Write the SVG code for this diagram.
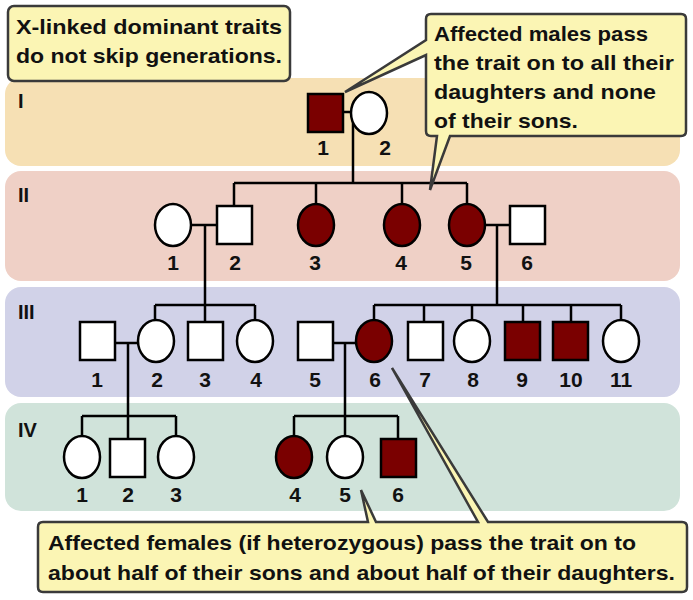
<svg xmlns="http://www.w3.org/2000/svg" width="693" height="600" viewBox="0 0 693 600">
<style>
.t{font-family:"Liberation Sans",Arial,sans-serif;font-weight:bold;fill:#111}
.c{font-size:21px}
.n{font-size:21px;text-anchor:middle}
.g{font-size:20px}
.s{fill:#fff;stroke:#000;stroke-width:2.5}
.a{fill:#7a0000;stroke:#000;stroke-width:2.5}
.l{fill:none;stroke:#000;stroke-width:2.5}
.b{fill:#fbf5b4;stroke:#3a3a3a;stroke-width:2.5}
</style>
<rect x="5" y="78" width="675" height="88" rx="16" fill="#f6e0b4"/>
<rect x="5" y="171" width="675" height="110" rx="16" fill="#efd0c6"/>
<rect x="5" y="287" width="675" height="110" rx="16" fill="#d1d2e8"/>
<rect x="5" y="403" width="675" height="108" rx="16" fill="#d0e3da"/>
<g class="t g"><text x="18" y="108">I</text><text x="18" y="202">II</text><text x="18" y="319">III</text><text x="18" y="437">IV</text></g>
<g id="connectors" class="l">
<path d="M343 112H350M353 112V183M234 183H467M234 183V205M316 183V204M402 183V204M467 183V204"/>
<path d="M191 225H217M205 225V305M155 305H255M155 305V320M205 305V322M255 305V320"/>
<path d="M485 225H510M497 225V305M374 305H621M374 305V320M424 305V322M472 305V320M523 305V322M571 305V322M621 305V320"/>
<path d="M115 343H138M128 343V416M82 416H176M82 416V437M128 416V439M176 416V437"/>
<path d="M333 343H356M345 343V416M294 416H398M294 416V437M345 416V437M398 416V439"/>
</g>
<g id="I-1"><rect class="a" x="308" y="94" width="35" height="38"/><text class="t n" x="323" y="155">1</text></g>
<g id="I-2"><ellipse class="s" cx="369" cy="113" rx="18" ry="21"/><text class="t n" x="385" y="155">2</text></g>
<g id="II-1"><ellipse class="s" cx="173" cy="225" rx="18" ry="21"/><text class="t n" x="173" y="270">1</text></g>
<g id="II-2"><rect class="s" x="217" y="206" width="35" height="38"/><text class="t n" x="235" y="270">2</text></g>
<g id="II-3"><ellipse class="a" cx="316" cy="225" rx="18" ry="21"/><text class="t n" x="315" y="270">3</text></g>
<g id="II-4"><ellipse class="a" cx="402" cy="225" rx="18" ry="21"/><text class="t n" x="401" y="270">4</text></g>
<g id="II-5"><ellipse class="a" cx="467" cy="225" rx="18" ry="21"/><text class="t n" x="466" y="270">5</text></g>
<g id="II-6"><rect class="s" x="510" y="206" width="35" height="38"/><text class="t n" x="527" y="270">6</text></g>
<g id="III-1"><rect class="s" x="80" y="322" width="35" height="38"/><text class="t n" x="97" y="387">1</text></g>
<g id="III-2"><ellipse class="s" cx="156" cy="341" rx="18" ry="21"/><text class="t n" x="157" y="387">2</text></g>
<g id="III-3"><rect class="s" x="188" y="322" width="35" height="38"/><text class="t n" x="205" y="387">3</text></g>
<g id="III-4"><ellipse class="s" cx="255" cy="341" rx="18" ry="21"/><text class="t n" x="256" y="387">4</text></g>
<g id="III-5"><rect class="s" x="298" y="322" width="35" height="38"/><text class="t n" x="315" y="387">5</text></g>
<g id="III-6"><ellipse class="a" cx="374" cy="341" rx="18" ry="21"/><text class="t n" x="375" y="387">6</text></g>
<g id="III-7"><rect class="s" x="408" y="322" width="35" height="38"/><text class="t n" x="425" y="387">7</text></g>
<g id="III-8"><ellipse class="s" cx="472" cy="341" rx="18" ry="21"/><text class="t n" x="473" y="387">8</text></g>
<g id="III-9"><rect class="a" x="505" y="322" width="35" height="38"/><text class="t n" x="522" y="387">9</text></g>
<g id="III-10"><rect class="a" x="553" y="322" width="35" height="38"/><text class="t n" x="571" y="387">10</text></g>
<g id="III-11"><ellipse class="s" cx="621" cy="341" rx="18" ry="21"/><text class="t n" x="621" y="387">11</text></g>
<g id="IV-1"><ellipse class="s" cx="82" cy="457" rx="18" ry="21"/><text class="t n" x="82" y="502">1</text></g>
<g id="IV-2"><rect class="s" x="110" y="439" width="35" height="38"/><text class="t n" x="128" y="502">2</text></g>
<g id="IV-3"><ellipse class="s" cx="176" cy="457" rx="18" ry="21"/><text class="t n" x="176" y="502">3</text></g>
<g id="IV-4"><ellipse class="a" cx="294" cy="457" rx="18" ry="21"/><text class="t n" x="295" y="502">4</text></g>
<g id="IV-5"><ellipse class="s" cx="345" cy="457" rx="18" ry="21"/><text class="t n" x="345" y="502">5</text></g>
<g id="IV-6"><rect class="a" x="381" y="439" width="35" height="38"/><text class="t n" x="398" y="502">6</text></g>
<g id="note1"><rect class="b" x="8" y="6" width="282" height="75" rx="6"/>
<text class="t c"><tspan x="16" y="34" textLength="266" lengthAdjust="spacingAndGlyphs">X-linked dominant traits</tspan><tspan x="16" y="63" textLength="266" lengthAdjust="spacingAndGlyphs">do not skip generations.</tspan></text></g>
<g id="note2"><path class="b" d="M431 14H681Q686 14 686 19V131Q686 136 681 136H450L430 190L437 136H431Q426 136 426 131V55L345 92L426 40V19Q426 14 431 14Z"/>
<text class="t c"><tspan x="434" y="41" textLength="214" lengthAdjust="spacingAndGlyphs">Affected males pass</tspan><tspan x="434" y="70" textLength="240" lengthAdjust="spacingAndGlyphs">the trait on to all their</tspan><tspan x="434" y="99" textLength="222" lengthAdjust="spacingAndGlyphs">daughters and none</tspan><tspan x="434" y="128" textLength="144" lengthAdjust="spacingAndGlyphs">of their sons.</tspan></text></g>
<g id="note3"><path class="b" d="M43 522H368L361 490L376 522H478L392 368L488 522H682Q687 522 687 527V587Q687 592 682 592H43Q38 592 38 587V527Q38 522 43 522Z"/>
<text class="t c"><tspan x="48" y="550" textLength="588" lengthAdjust="spacingAndGlyphs">Affected females (if heterozygous) pass the trait on to</tspan><tspan x="48" y="580" textLength="627" lengthAdjust="spacingAndGlyphs">about half of their sons and about half of their daughters.</tspan></text></g>
</svg>
